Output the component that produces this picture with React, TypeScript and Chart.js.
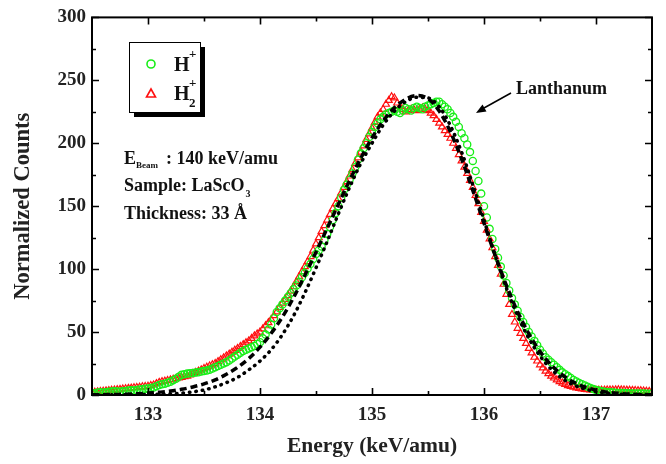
import React, { useEffect, useRef } from 'react';
import { Chart, registerables } from 'chart.js';
Chart.register(...registerables);

// ---- data ----
const energyFit = [132.5, 132.6, 132.7, 132.8, 132.9, 133.0, 133.1, 133.2, 133.3, 133.4, 133.5, 133.6, 133.7, 133.8, 133.9, 134.0, 134.1, 134.2, 134.3, 134.4, 134.5, 134.6, 134.7, 134.8, 134.9, 135.0, 135.1, 135.2, 135.3, 135.4, 135.5, 135.6, 135.7, 135.8, 135.9, 136.0, 136.1, 136.2, 136.3, 136.4, 136.5, 136.6, 136.7, 136.8, 136.9, 137.0, 137.1, 137.2, 137.3, 137.4, 137.5];
const fitDashed = [0.2, 0.2, 0.4, 0.6, 1.0, 1.5, 2.2, 3.1, 4.5, 6.4, 8.8, 12.0, 16.5, 22.0, 29.0, 38.0, 49.0, 62.0, 77.5, 95.0, 113.5, 132.5, 151.5, 170.5, 188.3, 204.3, 217.8, 228.2, 235.0, 237.9, 235.5, 225.6, 209.1, 187.5, 162.6, 136.5, 110.8, 87.1, 66.2, 48.7, 34.6, 23.8, 15.9, 10.2, 6.4, 3.8, 2.2, 1.3, 0.7, 0.4, 0.2];
const fitDotted = [0.0, 0.1, 0.1, 0.2, 0.3, 0.4, 0.6, 1.0, 1.5, 2.5, 4.0, 6.5, 9.8, 14.0, 20.0, 27.0, 36.0, 48.0, 63.0, 81.0, 101.0, 122.0, 144.0, 165.0, 184.0, 200.0, 214.5, 225.5, 233.0, 236.5, 236.0, 229.0, 214.0, 193.0, 167.0, 139.0, 111.0, 85.0, 63.0, 45.0, 31.0, 20.5, 13.0, 8.0, 4.8, 2.7, 1.4, 0.7, 0.3, 0.2, 0.1];

const energyData = [
  132.5, 132.525, 132.55, 132.575, 132.6, 132.625, 132.65, 132.675, 132.7, 132.725, 132.75, 132.775, 132.8, 132.825, 132.85, 132.875, 132.9, 132.925, 132.95, 132.975,
  133.0, 133.025, 133.05, 133.075, 133.1, 133.125, 133.15, 133.175, 133.2, 133.225, 133.25, 133.275, 133.3, 133.325, 133.35, 133.375, 133.4, 133.425, 133.45, 133.475,
  133.5, 133.525, 133.55, 133.575, 133.6, 133.625, 133.65, 133.675, 133.7, 133.725, 133.75, 133.775, 133.8, 133.825, 133.85, 133.875, 133.9, 133.925, 133.95, 133.975,
  134.0, 134.025, 134.05, 134.075, 134.1, 134.125, 134.15, 134.175, 134.2, 134.225, 134.25, 134.275, 134.3, 134.325, 134.35, 134.375, 134.4, 134.425, 134.45, 134.475,
  134.5, 134.525, 134.55, 134.575, 134.6, 134.625, 134.65, 134.675, 134.7, 134.725, 134.75, 134.775, 134.8, 134.825, 134.85, 134.875, 134.9, 134.925, 134.95, 134.975,
  135.0, 135.025, 135.05, 135.075, 135.1, 135.125, 135.15, 135.175, 135.2, 135.225, 135.25, 135.275, 135.3, 135.325, 135.35, 135.375, 135.4, 135.425, 135.45, 135.475,
  135.5, 135.525, 135.55, 135.575, 135.6, 135.625, 135.65, 135.675, 135.7, 135.725, 135.75, 135.775, 135.8, 135.825, 135.85, 135.875, 135.9, 135.925, 135.95, 135.975,
  136.0, 136.025, 136.05, 136.075, 136.1, 136.125, 136.15, 136.175, 136.2, 136.225, 136.25, 136.275, 136.3, 136.325, 136.35, 136.375, 136.4, 136.425, 136.45, 136.475,
  136.5, 136.525, 136.55, 136.575, 136.6, 136.625, 136.65, 136.675, 136.7, 136.725, 136.75, 136.775, 136.8, 136.825, 136.85, 136.875, 136.9, 136.925, 136.95, 136.975,
  137.0, 137.025, 137.05, 137.075, 137.1, 137.125, 137.15, 137.175, 137.2, 137.225, 137.25, 137.275, 137.3, 137.325, 137.35, 137.375, 137.4, 137.425, 137.45, 137.475,
  137.5,
];
const countsHplus = [
  1.5, 1.2, 2, 2.2, 1.8, 2.1, 2.5, 2.8, 3, 2.7, 2.6, 3.0, 3.2, 3.5, 3.8, 3.6, 4, 4.4, 4.6, 5.0,
  5.2, 5.5, 6, 7, 8, 8.6, 9, 9.8, 10.5, 11.8, 13, 14.5, 16, 16.4, 17, 17.2, 17.5, 17.8, 18, 18.6,
  19, 19.4, 20, 21, 22, 23, 24, 25, 26, 27.5, 29, 30.5, 32, 33.5, 35, 36, 37, 38, 39, 40.5,
  42, 45, 48, 52, 56, 61, 66, 69, 72, 75, 78, 81, 84, 87, 90, 93.5, 97, 100.5, 104, 108,
  112, 115, 118, 123, 128, 133.5, 139, 144.5, 150, 157, 163, 167, 171, 176, 181, 187, 192, 196, 200, 205,
  209, 213, 216, 219, 221, 223, 224, 225, 226, 225, 224, 226, 228, 227, 226, 228, 229, 228, 227, 229,
  230, 231, 232, 233, 233, 231, 229, 227, 224, 221, 217, 213, 208, 204, 199, 193, 186, 178, 170, 160,
  150, 141, 132, 124, 116, 109, 102, 95, 89, 83, 77, 72, 67, 62, 58, 54, 50, 46.5, 43, 39.5,
  36, 33, 30, 28, 26, 24, 22, 20, 18, 16.5, 15, 13.5, 12, 10.8, 9.5, 8.5, 7.5, 6.5, 5.5, 4.7,
  4, 3.5, 3, 2.6, 2.2, 2.1, 2, 1.8, 1.6, 1.5, 1.5, 1.4, 1.3, 1.2, 1.2, 1.2, 1.2, 1.1, 1, 1,
  1,
];
const countsH2plus = [
  2, 2.2, 2.5, 2.8, 3, 3.3, 3.5, 3.8, 4, 4.3, 4.5, 4.8, 5, 5.3, 5.5, 5.8, 6, 6.2, 6.5, 6.8,
  7, 7.5, 8, 9, 10, 10.6, 11, 11.5, 12, 12.5, 13, 13.5, 14, 14.5, 15, 16, 17, 18, 19, 20,
  21, 22, 23, 24, 25, 26.5, 28, 29.5, 31, 32.5, 34, 35.5, 37, 38.5, 40, 41.5, 43, 45, 47, 48.5,
  50, 52.5, 55, 57.5, 60, 63, 66, 69.5, 73, 76, 79, 82.5, 86, 90, 94, 98, 102, 106, 110, 115,
  120, 125, 130, 134.5, 139, 143.5, 148, 152, 156, 160.5, 165, 169.5, 174, 179, 184, 188.5, 193, 198, 203, 207.5,
  212, 216.5, 221, 224, 227, 231, 234, 237, 236, 232, 229, 227, 225, 226, 227, 226.5, 226, 227, 228, 227,
  226, 224, 222, 219, 216, 213, 210, 207, 204, 200, 196, 191, 186, 181, 176, 170.5, 165, 158.5, 152, 145,
  138, 131, 124, 117, 110, 103, 96, 88, 80, 72, 64, 58, 53, 49, 45, 41, 37, 33.5, 30, 27,
  24, 21.5, 19, 17, 15, 13.5, 12, 10.7, 9.5, 8.5, 7.5, 6.8, 6.2, 5.7, 5.3, 4.9, 4.5, 4.2, 4, 3.9,
  3.8, 3.8, 3.8, 3.9, 4, 4, 4, 4.1, 4.2, 4.1, 4, 3.9, 3.8, 3.7, 3.6, 3.5, 3.4, 3.2, 3, 2.9,
  2.8,
];

const xTicks = [133, 134, 135, 136, 137];
const xMinorTicks = [133.5, 134.5, 135.5, 136.5];
const yTicks = [0, 50, 100, 150, 200, 250, 300];
const yMinorTicks = [25, 75, 125, 175, 225, 275];

const SERIF = '"Liberation Serif", "Times New Roman", serif';
const GREEN = '#18ee18';
const RED = '#ff1010';

const pairs = (xs: number[], ys: number[]) => {
  const n = Math.min(xs.length, ys.length);
  const out: { x: number; y: number }[] = [];
  for (let i = 0; i < n; i++) out.push({ x: xs[i], y: ys[i] });
  return out;
};

const decorPlugin = {
  id: 'decor',
  afterDatasetsDraw(chart: any) {
    const { ctx, chartArea: a, scales } = chart;
    const xs = scales.x;
    const ys = scales.y;
    ctx.save();
    ctx.strokeStyle = '#000';
    ctx.lineWidth = 2;
    ctx.strokeRect(a.left, a.top, a.right - a.left, a.bottom - a.top);
    ctx.lineWidth = 1.6;
    const vt = (v: number, len: number) => {
      const p = Math.round(xs.getPixelForValue(v)) + 0.5;
      ctx.beginPath();
      ctx.moveTo(p, a.bottom); ctx.lineTo(p, a.bottom - len);
      ctx.moveTo(p, a.top); ctx.lineTo(p, a.top + len);
      ctx.stroke();
    };
    const ht = (v: number, len: number) => {
      const p = Math.round(ys.getPixelForValue(v)) + 0.5;
      ctx.beginPath();
      ctx.moveTo(a.left, p); ctx.lineTo(a.left + len, p);
      ctx.moveTo(a.right, p); ctx.lineTo(a.right - len, p);
      ctx.stroke();
    };
    xTicks.forEach((v) => vt(v, 7));
    xMinorTicks.forEach((v) => vt(v, 4));
    yTicks.forEach((v) => ht(v, 7));
    yMinorTicks.forEach((v) => ht(v, 4));
    ctx.restore();
  },
  afterDraw(chart: any) {
    const { ctx } = chart;
    ctx.save();
    // legend box
    const bx = 129, by = 42, bw = 71, bh = 70;
    ctx.fillStyle = '#000';
    ctx.fillRect(bx + 5, by + 5, bw, bh);
    ctx.fillStyle = '#fff';
    ctx.fillRect(bx, by, bw, bh);
    ctx.strokeStyle = '#000';
    ctx.lineWidth = 1;
    ctx.strokeRect(bx + 0.5, by + 0.5, bw, bh);
    // markers
    ctx.strokeStyle = GREEN;
    ctx.lineWidth = 1.6;
    ctx.beginPath();
    ctx.arc(151, 64, 4, 0, Math.PI * 2);
    ctx.stroke();
    ctx.strokeStyle = RED;
    ctx.beginPath();
    ctx.moveTo(151, 89); ctx.lineTo(155.5, 97); ctx.lineTo(146.5, 97); ctx.closePath();
    ctx.stroke();
    ctx.fillStyle = '#111';
    ctx.textBaseline = 'alphabetic';
    ctx.textAlign = 'left';
    ctx.font = `bold 20px ${SERIF}`;
    ctx.fillText('H', 174, 71);
    ctx.fillText('H', 174, 100);
    ctx.font = `bold 13px ${SERIF}`;
    ctx.fillText('+', 189, 58);
    ctx.fillText('+', 189, 87);
    ctx.fillText('2', 189, 107);

    // annotations
    ctx.font = `bold 18px ${SERIF}`;
    ctx.fillText('E', 124, 164);
    ctx.font = `bold 9px ${SERIF}`;
    ctx.fillText('Beam', 136, 168);
    ctx.font = `bold 18px ${SERIF}`;
    ctx.fillText(': 140 keV/amu', 166, 164);
    ctx.fillText('Sample: LaScO', 124, 191);
    const w = ctx.measureText('Sample: LaScO').width;
    ctx.font = `bold 10px ${SERIF}`;
    ctx.fillText('3', 124 + w + 1, 197);
    ctx.font = `bold 18px ${SERIF}`;
    ctx.fillText('Thickness: 33 Å', 124, 219);

    ctx.fillText('Lanthanum', 516, 94);
    // arrow
    ctx.strokeStyle = '#000';
    ctx.lineWidth = 1.5;
    ctx.beginPath();
    ctx.moveTo(511, 93);
    ctx.lineTo(484, 108);
    ctx.stroke();
    ctx.fillStyle = '#000';
    ctx.beginPath();
    ctx.moveTo(476, 113);
    ctx.lineTo(482.5, 104.5);
    ctx.lineTo(486.5, 111.5);
    ctx.closePath();
    ctx.fill();
    ctx.restore();
  },
};

export default function App() {
  const ref = useRef<HTMLCanvasElement | null>(null);
  useEffect(() => {
    if (!ref.current) return;
    const chart = new Chart(ref.current, {
      type: 'scatter',
      data: {
        datasets: [
          {
            label: 'fit dashed',
            data: pairs(energyFit, fitDashed),
            showLine: true,
            borderColor: '#000',
            borderWidth: 3.5,
            borderDash: [7, 4],
            pointRadius: 0,
            tension: 0.4,
            cubicInterpolationMode: 'monotone',
            order: 0,
          } as any,
          {
            label: 'fit dotted',
            data: pairs(energyFit, fitDotted),
            showLine: true,
            borderColor: '#000',
            borderWidth: 3.5,
            borderDash: [0.5, 6],
            borderCapStyle: 'round',
            pointRadius: 0,
            tension: 0.4,
            cubicInterpolationMode: 'monotone',
            order: 1,
          } as any,
          {
            label: 'H+',
            data: pairs(energyData, countsHplus),
            pointStyle: 'circle',
            pointRadius: 3.6,
            pointBorderWidth: 1.3,
            pointBorderColor: GREEN,
            pointBackgroundColor: 'rgba(0,0,0,0)',
            order: 2,
          } as any,
          {
            label: 'H2+',
            data: pairs(energyData, countsH2plus),
            pointStyle: 'triangle',
            pointRadius: 4,
            pointBorderWidth: 1.2,
            pointBorderColor: RED,
            pointBackgroundColor: 'rgba(0,0,0,0)',
            order: 3,
          } as any,
        ],
      },
      options: {
        animation: false,
        responsive: false,
        events: [],
        layout: { padding: { left: 0, right: 14, top: 15, bottom: 0 } },
        plugins: { legend: { display: false }, tooltip: { enabled: false } },
        scales: {
          x: {
            type: 'linear',
            min: 132.5,
            max: 137.5,
            afterBuildTicks: (s: any) => { s.ticks = xTicks.map((v) => ({ value: v })); },
            afterFit: (s: any) => { s.height = 69; },
            grid: { display: false, drawTicks: false },
            border: { display: false },
            ticks: { color: '#222', padding: 9, font: { family: SERIF, size: 19, weight: 'bold' } },
            title: { display: true, text: 'Energy (keV/amu)', color: '#222', padding: { top: 0, bottom: 5 }, font: { family: SERIF, size: 21.5, weight: 'bold' } },
          },
          y: {
            type: 'linear',
            min: 0,
            max: 300,
            afterBuildTicks: (s: any) => { s.ticks = yTicks.map((v) => ({ value: v })); },
            afterFit: (s: any) => { s.width = 92; },
            grid: { display: false, drawTicks: false },
            border: { display: false },
            ticks: { color: '#222', padding: 6, font: { family: SERIF, size: 19, weight: 'bold' } },
            title: { display: true, text: 'Normalized Counts', color: '#222', padding: { top: 10, bottom: 0 }, font: { family: SERIF, size: 22.5, weight: 'bold' } },
          },
        },
      } as any,
      plugins: [decorPlugin],
    });
    return () => chart.destroy();
  }, []);
  return (
    <div style={{ position: 'absolute', left: 0, top: 0, width: 666, height: 464, background: '#fff' }}>
      <canvas ref={ref} width={666} height={464} />
    </div>
  );
}
